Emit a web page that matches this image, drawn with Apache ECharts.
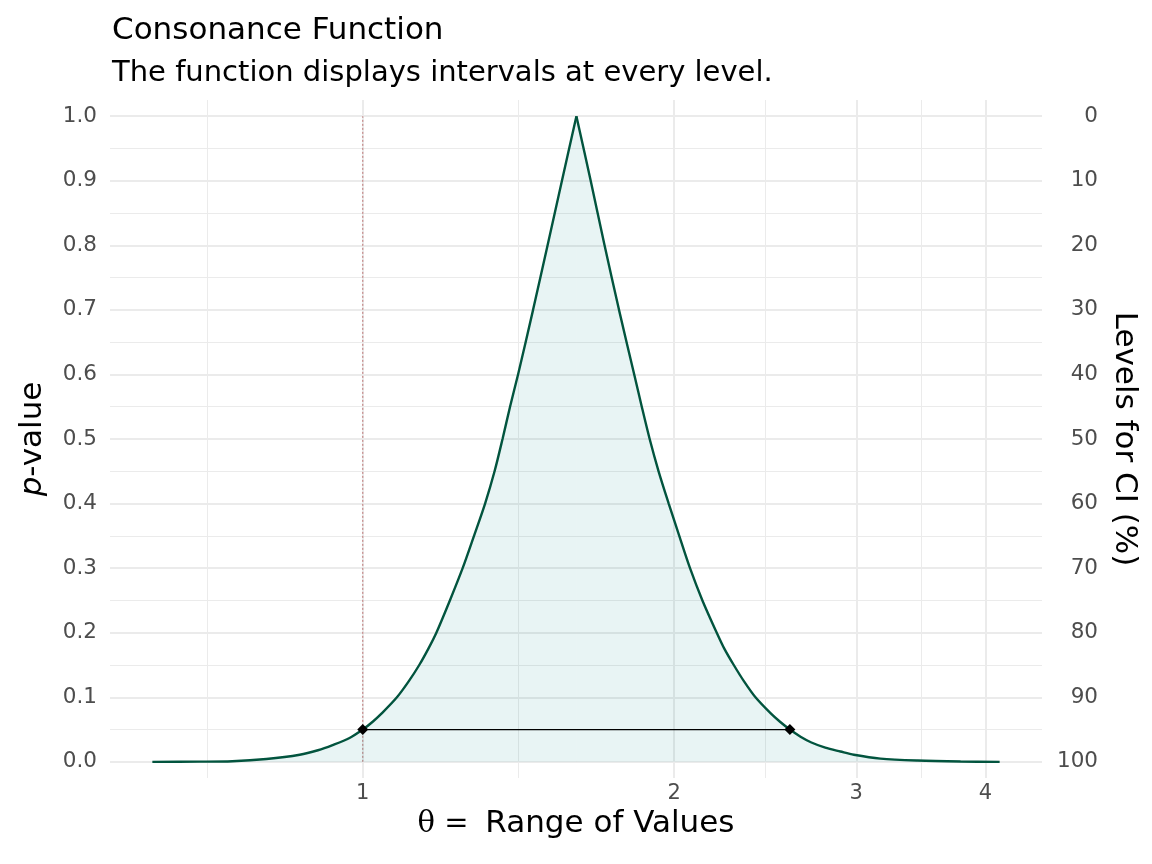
<!DOCTYPE html>
<html>
<head>
<meta charset="utf-8">
<title>Consonance Function</title>
<script src="https://cdn.jsdelivr.net/npm/echarts@6/dist/echarts.min.js"></script>
<style>
  html, body { margin: 0; padding: 0; background: #fff; }
  #chart { width: 1152px; height: 864px; }
</style>
</head>
<body>
<div id="chart"></div>
<script>
  // points (theta on a log scale, p-value)
  // rising side, up to the peak
  var thetaLeft = [0.626, 0.695, 0.748, 0.807, 0.869, 0.905, 0.935, 0.971, 1.000, 1.023, 1.043, 1.079, 1.108, 1.134,
                   1.157, 1.178, 1.214, 1.249, 1.281, 1.313, 1.341, 1.365, 1.388, 1.413, 1.461, 1.509, 1.558, 1.609];
  var pLeft = [0.000, 0.0003, 0.001, 0.0045, 0.011, 0.018, 0.026, 0.037, 0.050, 0.0625, 0.075, 0.100, 0.125, 0.150,
               0.175, 0.200, 0.250, 0.300, 0.350, 0.400, 0.450, 0.500, 0.550, 0.600, 0.700, 0.800, 0.900, 1.000];
  // falling side, from the peak
  var thetaRight = [1.609, 1.661, 1.713, 1.769, 1.830, 1.861, 1.894, 1.932, 1.976, 2.023, 2.072, 2.130, 2.199, 2.237,
                    2.284, 2.336, 2.397, 2.480, 2.530, 2.588, 2.650, 2.715, 2.800, 2.896, 2.984, 3.166, 3.438, 3.784, 4.128];
  var pRight = [1.000, 0.900, 0.800, 0.700, 0.600, 0.550, 0.500, 0.450, 0.400, 0.350, 0.300, 0.250, 0.200, 0.175,
                0.150, 0.125, 0.100, 0.075, 0.0625, 0.050, 0.039, 0.030, 0.022, 0.016, 0.011, 0.005, 0.002, 0.0005, 0.000];

  // 95% interval drawn at p = 0.05
  var ciBounds = [1.000, 2.588];
  var ciP = 0.05;
  var nullValue = 1;

  // axis breaks
  var xTicks = [1, 2, 3, 4];
  var xMinor = [0.707, 1.414, 2.449, 3.464];
  var yTicks = [0, 0.1, 0.2, 0.3, 0.4, 0.5, 0.6, 0.7, 0.8, 0.9, 1.0];
  var yMinor = [0.05, 0.15, 0.25, 0.35, 0.45, 0.55, 0.65, 0.75, 0.85, 0.95];

  var FONT = 'DejaVu Sans';
  var GRID = '#ebebeb';
  var LINE = '#02543e';

  var lnMin = Math.log(thetaLeft[0]);
  var lnMax = Math.log(thetaRight[thetaRight.length - 1]);
  var pad = (lnMax - lnMin) * 0.05;

  function toLog(ts, ps) {
    return ts.map(function (t, i) { return [Math.log(t), ps[i]]; });
  }
  var ciLine = ciBounds.map(function (t) { return [Math.log(t), ciP]; });

  // helper for the axes that only carry grid lines (long inside ticks)
  function gridAxis(extra) {
    var base = {
      type: 'value',
      axisLine: { show: false, onZero: false },
      splitLine: { show: false },
      axisLabel: { show: false }
    };
    return Object.assign(base, extra);
  }

  var chart = echarts.init(document.getElementById('chart'));

  var curveStyle = {
    type: 'line',
    showSymbol: false,
    smooth: 0.3,
    lineStyle: { color: LINE, width: 2.4 },
    itemStyle: { color: LINE },
    areaStyle: { color: '#008080', opacity: 0.09 },
    z: 3
  };

  var option = {
    animation: false,
    backgroundColor: '#fff',
    title: [{
      text: 'Consonance Function',
      left: 107, top: 10,
      textStyle: { fontFamily: FONT, fontSize: 31, fontWeight: 'normal', color: '#000' }
    }, {
      text: 'The function displays intervals at every level.',
      left: 107, top: 54,
      textStyle: { fontFamily: FONT, fontSize: 29, fontWeight: 'normal', color: '#000' }
    }],
    grid: { left: 110, right: 110, top: 100, bottom: 86, containLabel: false, outerBoundsMode: 'none' },
    xAxis: [gridAxis({
      position: 'bottom',
      min: lnMin - pad, max: lnMax + pad,
      axisTick: {
        show: true, inside: true, length: 678,
        customValues: xTicks.map(Math.log),
        lineStyle: { color: GRID, width: 2 }
      },
      axisLabel: {
        show: true,
        customValues: xTicks.map(Math.log),
        formatter: function (v) { return String(Math.round(Math.exp(v))); },
        color: '#4d4d4d', fontFamily: FONT, fontSize: 21, margin: 5
      },
      name: '{t|θ =} Range of Values',
      nameLocation: 'middle', nameGap: 29,
      nameTextStyle: {
        fontFamily: FONT, fontSize: 31, color: '#000',
        rich: { t: { fontFamily: 'DejaVu Serif', fontSize: 29, color: '#000', padding: [0, 7, 0, 0] } }
      }
    }), gridAxis({
      position: 'bottom',
      min: lnMin - pad, max: lnMax + pad,
      axisTick: {
        show: true, inside: true, length: 678,
        customValues: xMinor.map(Math.log),
        lineStyle: { color: GRID, width: 1 }
      }
    })],
    yAxis: [gridAxis({
      position: 'left',
      min: -0.025, max: 1.025,
      axisTick: {
        show: true, inside: true, length: 932,
        customValues: yTicks,
        lineStyle: { color: GRID, width: 2 }
      },
      axisLabel: {
        show: true,
        customValues: yTicks,
        formatter: function (v) { return v.toFixed(1); },
        color: '#4d4d4d', fontFamily: FONT, fontSize: 21.5, margin: 13
      },
      name: '{i|p}-value',
      nameLocation: 'middle', nameGap: 62, nameRotate: 90,
      nameTextStyle: {
        fontFamily: FONT, fontSize: 31, color: '#000',
        rich: { i: { fontFamily: FONT, fontStyle: 'italic', fontSize: 31, color: '#000' } }
      }
    }), gridAxis({
      position: 'left',
      min: -0.025, max: 1.025,
      axisTick: {
        show: true, inside: true, length: 932,
        customValues: yMinor,
        lineStyle: { color: GRID, width: 1 }
      }
    }), gridAxis({
      position: 'right',
      min: -0.025, max: 1.025,
      axisTick: { show: false, customValues: yTicks },
      axisLabel: {
        show: true,
        customValues: yTicks,
        formatter: function (v) { return String(Math.round((1 - v) * 100)); },
        align: 'right',
        color: '#4d4d4d', fontFamily: FONT, fontSize: 21.5, margin: 56
      },
      name: 'Levels for CI (%)',
      nameLocation: 'middle', nameGap: 67, nameRotate: -90,
      nameTextStyle: { fontFamily: FONT, fontSize: 31, color: '#000' }
    })],
    series: [{
      type: 'line',
      data: [[Math.log(nullValue), 0], [Math.log(nullValue), 1]],
      showSymbol: false,
      silent: true,
      lineStyle: { color: 'rgba(160,40,40,0.6)', width: 1, type: [2, 2] },
      z: 2
    },
    Object.assign({ data: toLog(thetaLeft, pLeft) }, curveStyle),
    Object.assign({ data: toLog(thetaRight, pRight) }, curveStyle),
    {
      type: 'line',
      data: ciLine,
      symbol: 'diamond',
      symbolSize: 11,
      lineStyle: { color: '#000', width: 1.2 },
      itemStyle: { color: '#000' },
      z: 4
    }]
  };

  chart.setOption(option);
</script>
</body>
</html>
